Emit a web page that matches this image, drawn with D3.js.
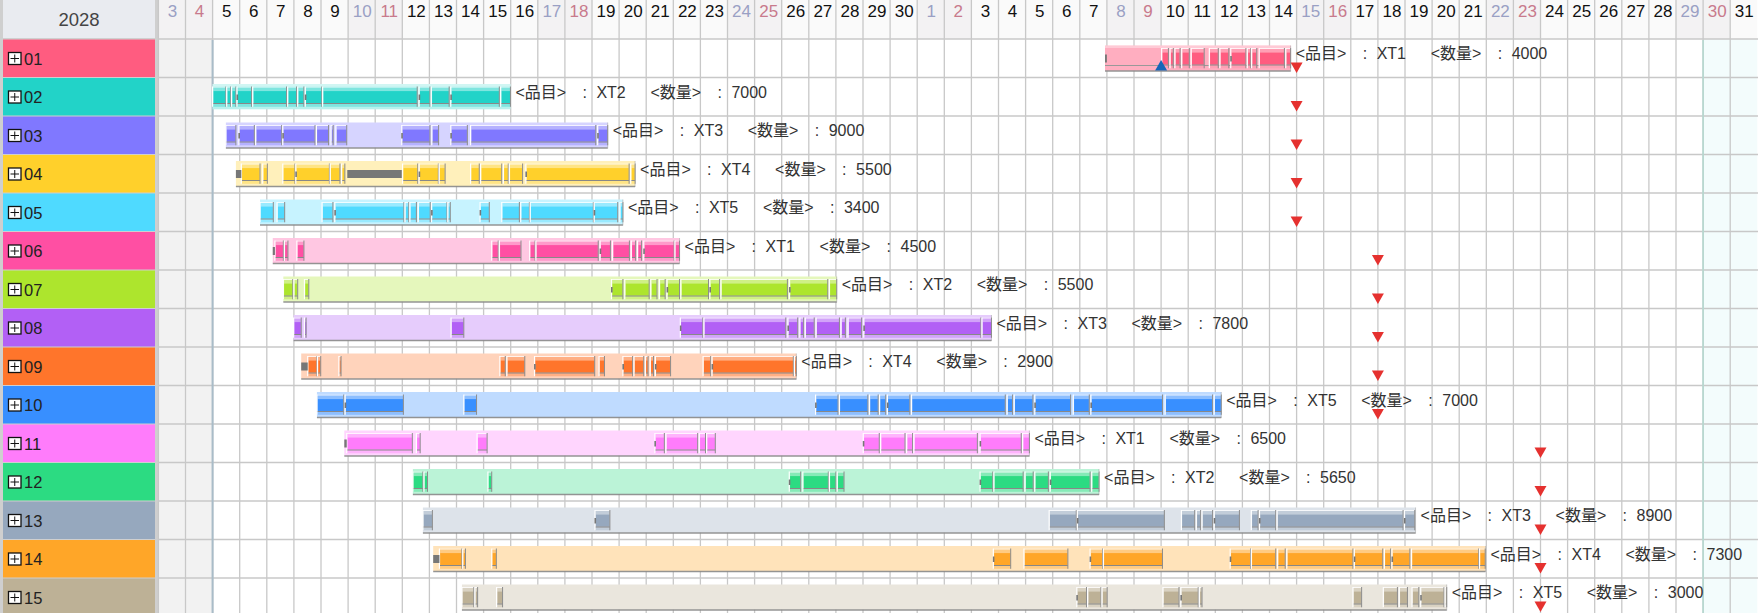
<!DOCTYPE html>
<html><head><meta charset="utf-8">
<script src="https://cdn.jsdelivr.net/npm/d3@7"></script>
<style>
html,body{margin:0;padding:0;background:#fff;overflow:hidden;width:1758px;height:613px}
svg{display:block}
text{font-family:"Liberation Sans","Noto Sans CJK JP",sans-serif}
</style></head><body><svg id="c" width="1758" height="613"></svg>
<script>
// ---- data (day positions are days counted from 3 June 2028) ----
const yearLabel = "2028";
const rowNames = ["01","02","03","04","05","06","07","08","09","10","11","12","13","14","15"];
const rowColors = ["#FF5C80","#22D3C8","#8078FF","#FFD02B","#4FDAFF","#FF4FA3","#ADE52D","#B260F5","#FF752B","#388FFF","#FF7CFB","#2CDB82","#96A8BE","#FFA628","#BDB196"];
const dayLabels = [3,4,5,6,7,8,9,10,11,12,13,14,15,16,17,18,19,20,21,22,23,24,25,26,27,28,29,30,
  1,2,3,4,5,6,7,8,9,10,11,12,13,14,15,16,17,18,19,20,21,22,23,24,25,26,27,28,29,30,31];
const items = ["XT1","XT2","XT3","XT4","XT5","XT1","XT2","XT3","XT4","XT5","XT1","XT2","XT3","XT4","XT5"];
const quantities = [4000,7000,9000,5500,3400,4500,5500,7800,2900,7000,6500,5650,8900,7300,3000];
const bandStart = [34.93,2.00,2.49,2.86,3.75,4.22,4.61,4.99,5.27,5.85,6.86,9.39,9.76,10.14,11.20];
const bandEnd   = [41.78,12.99,16.58,17.59,17.14,19.23,25.03,30.74,23.54,39.22,32.14,34.71,46.39,48.97,47.54];
const segments01 = [[37.02,37.27],[37.33,37.45],[37.51,37.70],[37.76,38.04],[38.11,38.59],[38.78,39.11],[39.17,39.50],[39.57,40.13],[40.18,40.31],[40.34,40.53],[40.62,41.55],[41.60,41.78]];
const segments02 = [[2.00,2.49],[2.52,2.67],[2.70,2.86],[2.90,3.44],[3.48,4.73],[4.77,5.10],[5.14,5.37],[5.42,6.03],[6.06,9.55],[9.62,10.02],[10.07,10.73],[10.79,12.58],[12.63,12.99]];
const segments03 = [[2.49,2.86],[2.97,3.54],[3.59,4.55],[4.59,5.78],[5.83,6.28],[6.37,6.45],[6.55,6.95],[8.98,10.02],[10.09,10.34],[10.79,11.40],[11.52,16.14],[16.21,16.58]];
const segments04 = [[3.06,3.75],[3.85,4.02],[4.59,5.04],[5.07,6.31],[6.34,6.70],[6.76,6.88],[9.01,9.57],[9.62,10.33],[10.36,10.58],[11.52,11.84],[11.89,12.67],[12.73,12.91],[12.95,13.44],[13.56,17.37],[17.43,17.59]];
const segments05 = [[3.75,4.24],[4.38,4.66],[6.04,6.44],[6.51,9.06],[9.10,9.24],[9.28,9.52],[9.59,10.03],[10.08,10.65],[10.68,10.77],[11.87,12.21],[12.67,13.32],[13.37,13.69],[13.72,16.05],[16.08,16.95],[17.03,17.14]];
const segments06 = [[4.30,4.61],[4.65,4.78],[5.11,5.37],[12.30,12.54],[12.58,13.38],[13.70,13.90],[13.93,16.23],[16.30,16.68],[16.76,17.38],[17.45,17.61],[17.68,17.83],[17.91,19.03],[19.06,19.23]];
const segments07 = [[4.61,4.96],[5.00,5.14],[5.39,5.55],[16.72,17.14],[17.21,18.11],[18.17,18.40],[18.49,18.70],[18.77,19.23],[19.28,20.30],[20.35,20.71],[20.76,23.21],[23.29,24.70],[24.76,25.03]];
const segments08 = [[4.99,5.27],[5.39,5.45],[10.80,11.27],[19.26,20.09],[20.13,23.15],[23.23,23.59],[23.67,23.81],[23.87,24.20],[24.27,25.13],[25.19,25.35],[25.45,25.95],[26.03,30.35],[30.39,30.74]];
const segments09 = [[5.51,5.85],[5.87,5.99],[6.66,6.74],[12.60,12.80],[12.86,13.52],[13.88,16.10],[16.26,16.46],[17.14,17.50],[17.55,17.91],[17.97,18.07],[18.15,18.27],[18.34,18.90],[20.10,20.38],[20.43,23.43],[23.47,23.54]];
const segments10 = [[5.85,6.84],[6.89,9.04],[11.27,11.74],[24.25,25.08],[25.13,26.18],[26.24,26.56],[26.61,26.84],[26.90,27.73],[27.79,31.25],[31.32,31.52],[31.58,32.27],[32.34,33.66],[33.76,34.35],[34.41,37.05],[37.15,38.90],[38.96,39.22]];
const segments11 = [[6.95,9.37],[9.52,9.66],[11.76,12.13],[18.32,18.67],[18.73,19.90],[19.96,20.19],[20.23,20.55],[26.01,26.60],[26.65,27.55],[27.61,27.83],[27.88,30.22],[30.32,31.84],[31.89,32.14]];
const segments12 = [[9.39,9.76],[9.80,9.93],[12.16,12.30],[23.28,23.70],[23.78,24.72],[24.76,25.00],[25.05,25.30],[30.32,30.79],[30.83,31.91],[31.98,32.28],[32.34,32.84],[32.91,34.38],[34.44,34.71]];
const segments13 = [[9.76,10.11],[16.11,16.66],[32.87,33.87],[33.91,37.12],[37.75,38.24],[38.30,38.46],[38.51,38.90],[38.96,39.89],[40.33,40.58],[40.63,41.23],[41.28,45.93],[45.98,46.36]];
const segments14 = [[10.37,11.20],[11.23,11.33],[12.30,12.47],[30.81,31.45],[31.94,33.56],[34.38,34.84],[34.87,37.05],[39.55,40.30],[40.33,41.23],[41.30,41.58],[41.64,44.08],[44.13,45.18],[45.24,45.47],[45.52,46.18],[46.24,48.72],[48.75,48.96]];
const segments15 = [[11.20,11.64],[11.68,11.78],[12.48,12.70],[33.89,34.25],[34.29,34.78],[34.82,35.01],[37.07,37.66],[37.73,38.37],[38.41,38.51],[44.08,44.40],[45.20,45.72],[45.79,46.09],[46.26,46.51],[46.58,47.44],[47.48,47.54]];
const setups = [[0,34.93,35.0],[3,2.86,3.06],[3,6.97,8.98],[5,4.22,4.30],[8,5.27,5.51],[10,6.86,6.95],[13,10.14,10.37]];
const redMarkers = [[0,42],[1,42],[2,42],[3,42],[4,42],[5,45],[6,45],[7,45],[8,45],[9,45],[10,51],[11,51],[12,51],[13,51],[14,51]];
const blueMarkers = [[0,37]];
const projectStartDay = 2, closedFromDay = 57, totalDays = 59;

// ---- drawing ----
const allSegments = [segments01,segments02,segments03,segments04,segments05,segments06,segments07,segments08,segments09,segments10,segments11,segments12,segments13,segments14,segments15];
const svg = d3.select("#c");
const W = 1758, H = 613, headH = 39, rowH = 38.5;
const x = d3.scaleLinear().domain([0,totalDays]).range([158.4,1757.3]);
const y = d3.scaleBand().domain(d3.range(rowNames.length)).range([headH, headH+rowH*rowNames.length]);
const mix = (c,t)=>d3.interpolateRgb(c,"#fff")(t);
const isSat = i => i%7===0, isSun = i => i%7===1;

// left panel
svg.append("rect").attr("x",0).attr("y",0).attr("width",159).attr("height",H).attr("fill","#cfcfcf");
svg.append("rect").attr("x",3).attr("y",0).attr("width",152).attr("height",headH-1).attr("fill","#e9ebf0");
svg.append("text").attr("x",79).attr("y",25.5).attr("text-anchor","middle").attr("font-size",18.5).attr("fill","#444").text(yearLabel);
const left = svg.append("g").selectAll("g").data(rowNames).join("g").attr("transform",(d,i)=>`translate(0,${y(i)})`);
left.append("rect").attr("x",3).attr("y",0.5).attr("width",152).attr("height",rowH-1).attr("fill",(d,i)=>rowColors[i]);
left.append("rect").attr("x",8.5).attr("y",13.5).attr("width",12.5).attr("height",12).attr("fill","#fff").attr("stroke","#111").attr("stroke-width",1.3);
left.append("path").attr("d","M10.5 19.5H19M14.75 15.5V23.5").attr("stroke","#111").attr("fill","none");
left.append("text").attr("x",24).attr("y",25.5).attr("font-size",16.5).attr("fill","#222").text(d=>d);

// chart background
const days = d3.range(totalDays);
svg.append("rect").attr("x",x(0)).attr("y",0).attr("width",W-x(0)).attr("height",H).attr("fill","#fff");
svg.append("g").selectAll("rect").data(days).join("rect")
  .attr("x",d=>x(d)).attr("y",0).attr("width",d=>x(d+1)-x(d)).attr("height",headH)
  .attr("fill",d=>(isSat(d)||isSun(d))?"#f3f2f3":"#fafafa");
svg.append("rect").attr("x",x(0)).attr("y",headH).attr("width",x(projectStartDay)-x(0)).attr("height",H-headH).attr("fill","#f2f2f2");
svg.append("rect").attr("x",x(closedFromDay)).attr("y",headH).attr("width",x(totalDays)-x(closedFromDay)).attr("height",H-headH).attr("fill","#f3fcfc");

// grid
svg.append("g").selectAll("line").data(days).join("line")
  .attr("x1",d=>x(d)).attr("x2",d=>x(d)).attr("y1",0).attr("y2",H).attr("stroke","#c8c8c8").attr("stroke-width",1.3);
svg.append("g").selectAll("line").data(d3.range(rowNames.length+1)).join("line")
  .attr("x1",x(0)).attr("x2",W).attr("y1",d=>headH+d*rowH).attr("y2",d=>headH+d*rowH).attr("stroke","#c8c8c8").attr("stroke-width",1.3);
svg.append("line").attr("x1",x(projectStartDay)).attr("x2",x(projectStartDay)).attr("y1",headH+1).attr("y2",H).attr("stroke","#a9bcc8").attr("stroke-width",2);
svg.append("line").attr("x1",x(closedFromDay)).attr("x2",x(closedFromDay)).attr("y1",headH+1).attr("y2",H).attr("stroke","#b5d9d0").attr("stroke-width",1.6);

// day axis
const axis = d3.axisBottom(x).tickValues(days.map(d=>d+0.5)).tickFormat((d,i)=>dayLabels[i]).tickSize(0).tickPadding(0);
const ax = svg.append("g").attr("transform","translate(0,3)").call(axis);
ax.select(".domain").remove();
ax.selectAll(".tick text").attr("font-size",17).attr("font-family",'"Liberation Sans",sans-serif')
  .attr("dy",0).attr("y",13.5)
  .attr("fill",(d,i)=>isSat(i)?"#9aa0c4":isSun(i)?"#c87a8c":"#111");

// bars
const rows = svg.append("g").selectAll("g").data(rowNames).join("g").attr("transform",(d,i)=>`translate(0,${y(i)})`);
rows.append("rect").attr("x",(d,i)=>x(bandStart[i])).attr("y",6.5).attr("height",25.3)
  .attr("width",(d,i)=>x(bandEnd[i])-x(bandStart[i]))
  .attr("fill",(d,i)=>mix(rowColors[i], i===0?0.5:0.68));
// lighter top strip and lower rule on the two first, running rows
rows.filter((d,i)=>i<2).append("rect").attr("x",(d,i)=>x(bandStart[i])).attr("y",6.5).attr("height",2.5)
  .attr("width",(d,i)=>x(bandEnd[i])-x(bandStart[i])).attr("fill","#fff").attr("fill-opacity",0.35);
rows.filter((d,i)=>i===0).append("line").attr("x1",(d,i)=>x(bandStart[i])).attr("x2",(d,i)=>x(bandEnd[i])).attr("y1",26.5).attr("y2",26.5).attr("stroke","#999");
rows.append("line").attr("x1",(d,i)=>x(bandStart[i])).attr("x2",(d,i)=>x(bandEnd[i])).attr("y1",32).attr("y2",32)
  .attr("stroke","#888").attr("stroke-width",1.3).attr("stroke-opacity",(d,i)=>i===1?0:0.9);
rows.append("line").attr("x1",(d,i)=>x(bandEnd[i])).attr("x2",(d,i)=>x(bandEnd[i])).attr("y1",6.5).attr("y2",32.5)
  .attr("stroke","#999").attr("stroke-width",1).attr("stroke-opacity",(d,i)=>i===1?0:0.5);

rows.each(function(name,i){
  const col = rowColors[i];
  const g = d3.select(this).append("g").selectAll("g").data(allSegments[i]).join("g");
  g.append("rect").attr("x",d=>x(d[0])).attr("width",d=>Math.max(1,x(d[1])-x(d[0]))).attr("y",9).attr("height",20.3).attr("fill",mix(col,0.42));
  g.append("rect").attr("x",d=>x(d[0])+0.8).attr("width",d=>Math.max(1,x(d[1])-x(d[0])-1.2)).attr("y",13.6).attr("height",12).attr("fill",col);
  g.append("line").attr("x1",d=>x(d[0])).attr("x2",d=>x(d[1])).attr("y1",9.5).attr("y2",9.5).attr("stroke","#fff").attr("stroke-opacity",0.85);
  g.append("line").attr("x1",d=>x(d[0])).attr("x2",d=>x(d[1])).attr("y1",26).attr("y2",26).attr("stroke","#888");
  g.append("line").attr("x1",d=>x(d[0])).attr("x2",d=>x(d[0])).attr("y1",9).attr("y2",29.3).attr("stroke","#fff").attr("stroke-width",1.2);
  g.append("line").attr("x1",d=>x(d[1])).attr("x2",d=>x(d[1])).attr("y1",9).attr("y2",29.3).attr("stroke","#8c8c8c").attr("stroke-width",1);
  g.filter((d,j)=>j%2===1 && x(d[1])-x(d[0])>9).append("rect").attr("x",d=>x(d[0])-0.5).attr("width",1.6).attr("y",17).attr("height",5.5).attr("fill","#777");
});

// setup pieces
svg.append("g").selectAll("rect").data(setups).join("rect")
  .attr("x",d=>x(d[1])).attr("width",d=>x(d[2])-x(d[1])).attr("y",d=>y(d[0])+15.5).attr("height",8).attr("fill","#777");

// labels
const labels = rows.append("text").attr("y",20).attr("font-size",16).attr("fill","#333").attr("transform",(d,i)=>`translate(${x(bandEnd[i])+5},0)`);
const parts = i => [["<品目>",0],[":",67],[items[i],81],["<数量>",135],[":",202],[quantities[i],216]];
labels.each(function(d,i){
  d3.select(this).selectAll("tspan").data(parts(i)).join("tspan").attr("x",p=>p[1]).text(p=>p[0]);
});

// markers
const tri = d3.symbol().type(d3.symbolTriangle).size(62);
const bt = svg.append("g");
bt.selectAll("path.r").data(redMarkers).join("path").attr("class","r")
  .attr("transform",d=>`translate(${x(d[1])},${y(d[0])+27}) rotate(180)`).attr("d",tri).attr("fill","#e5312f");
bt.selectAll("path.b").data(blueMarkers).join("path").attr("class","b")
  .attr("transform",d=>`translate(${x(d[1])},${y(d[0])+28})`).attr("d",tri).attr("fill","#1466b8");
</script></body></html>
